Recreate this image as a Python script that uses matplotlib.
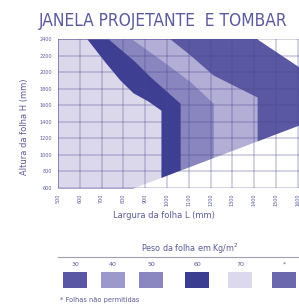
import matplotlib
matplotlib.use("Agg")
import matplotlib.pyplot as plt
from matplotlib.patches import Rectangle

# ---- data ----
x_ticks = [500, 600, 700, 800, 900, 1000, 1100, 1200, 1300, 1400, 1500, 1600]
y_ticks = [600, 800, 1000, 1200, 1400, 1600, 1800, 2000, 2200, 2400]

# boundaries: left limit of each weight zone (height -> width)
b70_h = [2400, 2120, 1905, 1750, 1650, 1540, 600]
b70_w = [633, 716, 784, 844, 913, 972, 972]
b60_h = [2400, 2126, 1945, 1623, 600]
b60_w = [731, 853, 922, 1060, 1060]
b50_h = [2400, 2126, 1885, 1623, 600]
b50_w = [838, 983, 1106, 1212, 1212]
b40_h = [2400, 2207, 1965, 1699, 600]
b40_w = [1014, 1106, 1211, 1413, 1413]
# upper-right limit (not allowed above)
top_w = [1413, 1605, 1700]
top_h = [2400, 2062, 1895]
# lower-right limit (not allowed below)
bot_w = [844, 1605, 1700]
bot_h = [600, 1361, 1456]

weights = ['30', '40', '50', '60', '70', '*']
legend_title = 'Peso da folha em Kg/m$^{2}$'
footnote = '* Folhas não permitidas'

# ---- styles ----
zone_colors = {'30': '#5a58a2', '40': '#b3aed6', '50': '#8985bf', '60': '#3e3f93', '70': '#dcd8ec'}
swatch_colors = ['#5a58a5', '#9c98cc', '#8a86c0', '#3a3d90', '#dcd8ee', '#6b68ad']
txt = '#5b5a9c'

fig = plt.figure(figsize=(2.99, 3.06), dpi=100)
W, H = 299, 306
ax = fig.add_axes([58 / W, 1 - 188 / H, 241 / W, 149 / H])
xmin, xmax, ymin, ymax = 500, 1605, 600, 2400
ax.set_xlim(xmin, xmax)
ax.set_ylim(ymin, ymax)

ax.fill_between([xmin, xmax], ymin, ymax, color=zone_colors['30'], lw=0, zorder=0.1)
ax.fill_betweenx(b40_h, xmin, b40_w, color=zone_colors['40'], lw=0, zorder=0.2)
ax.fill_betweenx(b50_h, xmin, b50_w, color=zone_colors['50'], lw=0, zorder=0.3)
ax.fill_betweenx(b60_h, xmin, b60_w, color=zone_colors['60'], lw=0, zorder=0.4)
ax.fill_betweenx(b70_h, xmin, b70_w, color=zone_colors['70'], lw=0, zorder=0.5)
ax.fill_between(top_w, top_h, 2600, color='white', lw=0, zorder=0.6)
ax.fill_between(bot_w, 400, bot_h, color='white', lw=0, zorder=0.6)

ax.set_xticks(x_ticks)
ax.set_yticks(y_ticks)
ax.set_xticklabels([str(v) for v in x_ticks], rotation=90, fontsize=3.5, color=txt)
ax.set_yticklabels([str(v) for v in y_ticks], fontsize=3.5, color=txt)
ax.tick_params(length=0, pad=4)
ax.set_axisbelow(False)
ax.grid(True, color='#4a4590', alpha=0.3, lw=1.1)
for s in ax.spines.values():
    s.set_visible(False)

fig.text(25 / W, 1 - 127 / H, 'Altura da folha H (mm)', fontsize=6, color=txt,
         ha='center', va='center', rotation=90)
fig.text(164 / W, 1 - 216 / H, 'Largura da folha L (mm)', fontsize=6, color=txt,
         ha='center', va='center')
fig.text(163 / W, 1 - 21 / H, 'JANELA PROJETANTE  E TOMBAR', fontsize=12.4, color=txt,
         ha='center', va='center', fontstretch='condensed')

# legend
fig.text(190 / W, 1 - 249 / H, legend_title, fontsize=5.8, color=txt, ha='center', va='center')
fig.add_artist(plt.Line2D([58 / W, 1.0], [1 - 257 / H] * 2, color='#a09fb5', lw=0.8))
cx = [75, 113, 151, 197, 240, 284]
for i, (lab, c) in enumerate(zip(weights, swatch_colors)):
    fig.text(cx[i] / W, 1 - 264 / H, lab, fontsize=4.5, color=txt, ha='center', va='center')
    fig.add_artist(Rectangle(((cx[i] - 12) / W, 1 - 288 / H), 24 / W, 16 / H,
                             facecolor=c, edgecolor='none', transform=fig.transFigure))
fig.text(60 / W, 1 - 300 / H, footnote, fontsize=4.8, color=txt, ha='left', va='center')

fig.savefig('out.png', dpi=100, facecolor='white')
